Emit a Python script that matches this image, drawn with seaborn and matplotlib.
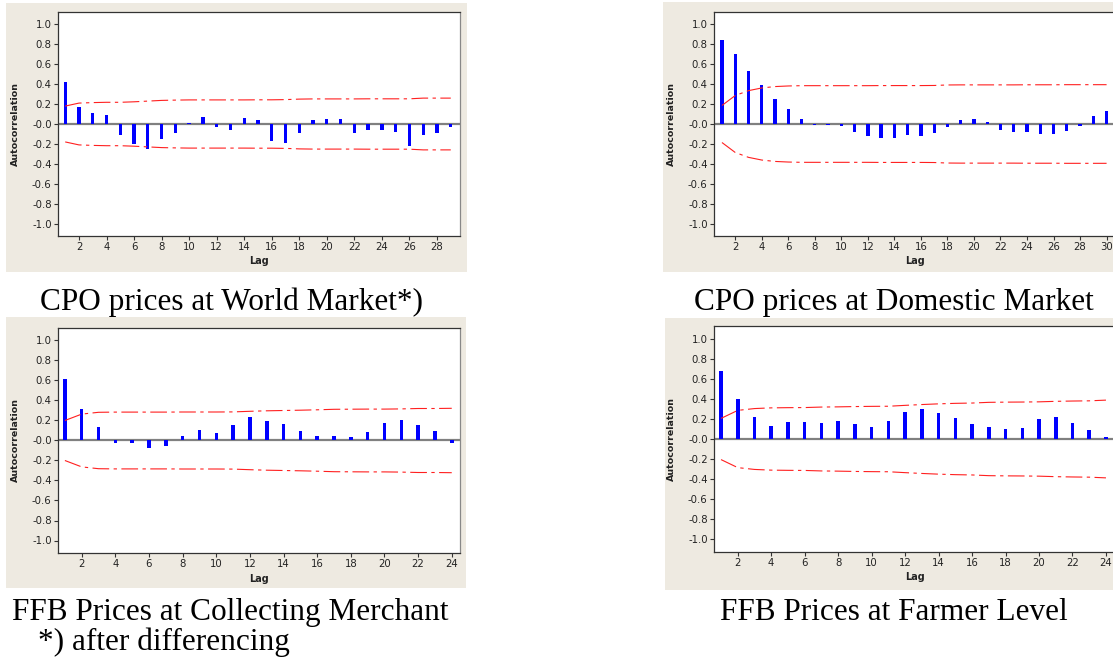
import matplotlib
matplotlib.use("Agg")
import matplotlib.pyplot as plt
import seaborn as sns
import numpy as np
import pandas as pd
from matplotlib.patches import Rectangle

# ACF values
world_acf = [0.42, 0.17, 0.11, 0.09, -0.11, -0.20, -0.25, -0.15, -0.09, 0.01,
             0.07, -0.03, -0.06, 0.06, 0.04, -0.17, -0.19, -0.09, 0.04, 0.05,
             0.05, -0.09, -0.06, -0.06, -0.08, -0.22, -0.11, -0.09, -0.03]
world_lim = [0.18, 0.21, 0.215, 0.218, 0.218, 0.223, 0.23, 0.237, 0.24, 0.242,
             0.242, 0.242, 0.242, 0.242, 0.243, 0.243, 0.245, 0.25, 0.252, 0.252,
             0.252, 0.252, 0.253, 0.253, 0.253, 0.253, 0.26, 0.26, 0.26]

domestic_acf = [0.84, 0.70, 0.53, 0.39, 0.25, 0.15, 0.05, -0.01, -0.01, -0.02,
                -0.08, -0.12, -0.14, -0.14, -0.11, -0.12, -0.09, -0.03, 0.04, 0.05,
                0.02, -0.06, -0.08, -0.08, -0.10, -0.10, -0.07, -0.02, 0.08, 0.13]
domestic_lim = [0.186, 0.286, 0.335, 0.362, 0.376, 0.382, 0.385, 0.385, 0.385, 0.385,
                0.385, 0.385, 0.386, 0.386, 0.386, 0.386, 0.387, 0.392, 0.393, 0.393,
                0.393, 0.393, 0.393, 0.394, 0.394, 0.394, 0.395, 0.395, 0.395, 0.395]

merchant_acf = [0.61, 0.31, 0.13, -0.03, -0.03, -0.08, -0.06, 0.04, 0.10, 0.07,
                0.15, 0.23, 0.19, 0.16, 0.09, 0.04, 0.04, 0.03, 0.08, 0.17,
                0.20, 0.15, 0.09, -0.03]
merchant_lim = [0.20, 0.264, 0.282, 0.284, 0.284, 0.284, 0.284, 0.285, 0.285, 0.285,
                0.286, 0.292, 0.297, 0.30, 0.303, 0.307, 0.312, 0.313, 0.314, 0.314,
                0.316, 0.32, 0.32, 0.322]

farmer_acf = [0.68, 0.40, 0.22, 0.13, 0.17, 0.17, 0.16, 0.18, 0.15, 0.12,
              0.18, 0.27, 0.30, 0.26, 0.21, 0.15, 0.12, 0.10, 0.11, 0.20,
              0.22, 0.16, 0.09, 0.02]
farmer_lim = [0.205, 0.285, 0.303, 0.31, 0.312, 0.313, 0.318, 0.32, 0.323, 0.325,
              0.326, 0.335, 0.343, 0.35, 0.355, 0.358, 0.365, 0.367, 0.368, 0.37,
              0.375, 0.378, 0.38, 0.387]

captions = ["CPO prices at World Market*)", "CPO prices at Domestic Market",
            "FFB Prices at Collecting Merchant", "FFB Prices at Farmer Level"]
footnote = "*) after differencing"

W, H = 1113, 668
BEIGE = "#eeeae1"

sns.set_theme(style="ticks")
plt.rcParams["font.family"] = ["DejaVu Sans"]
plt.rcParams["axes.linewidth"] = 0.9

fig = plt.figure(figsize=(W / 100, H / 100), dpi=100)
fig.patch.set_facecolor("white")


def fig_rect(x0, y0, x1, y1):
    fig.add_artist(Rectangle((x0 / W, 1 - y1 / H), (x1 - x0) / W, (y1 - y0) / H,
                             transform=fig.transFigure, facecolor=BEIGE,
                             edgecolor="none", zorder=0))


def px_axes(left, top, right, bottom):
    return fig.add_axes([left / W, 1 - bottom / H, (right - left) / W, (bottom - top) / H])


# beige chart backgrounds
fig_rect(6, 3, 467, 272)
fig_rect(663, 2, 1120, 272)
fig_rect(6, 317, 466, 588)
fig_rect(665, 318, 1120, 590)

panels = [
    (world_acf, world_lim, (58, 12, 460, 236), (0.477, 29.67), 0.24, range(2, 29, 2)),
    (domestic_acf, domestic_lim, (714, 12, 1116, 236), (0.40, 30.71), 0.25, range(2, 31, 2)),
    (merchant_acf, merchant_lim, (58, 328, 460, 553), (0.59, 24.49), 0.21, range(2, 25, 2)),
    (farmer_acf, farmer_lim, (714, 326, 1116, 552), (0.58, 24.6), 0.21, range(2, 25, 2)),
]

for acf, lim, box, xlim, bw, xt in panels:
    ax = px_axes(*box)
    ax.set_facecolor("white")
    lags = np.arange(1, len(acf) + 1)
    df = pd.DataFrame({"Lag": lags, "acf": acf, "up": lim, "lo": [-v for v in lim]})

    ax.axhline(0, color="#808080", lw=1.6, zorder=1)
    sns.barplot(data=df, x="Lag", y="acf", native_scale=True, width=bw,
                color="#0000ff", saturation=1, errorbar=None, ax=ax, zorder=2,
                linewidth=0)
    for col in ["up", "lo"]:
        sns.lineplot(data=df, x="Lag", y=col, ax=ax, color="#ff2020", lw=0.8,
                     linestyle=(0, (15, 4, 3, 4)), zorder=3)

    ax.set_xlim(*xlim)
    ax.set_ylim(-1.125, 1.125)
    ax.set_xticks(list(xt))
    ax.set_yticks(np.round(np.arange(-1.0, 1.01, 0.2), 1))
    ax.set_yticklabels([f"{v:.1f}" for v in np.round(np.arange(-1.0, 1.01, 0.2), 1)])
    ax.tick_params(axis="both", labelsize=7.3, length=3, width=0.8, pad=1.5,
                   colors="#333333", labelcolor="#222222")
    for s in ax.spines.values():
        s.set_color("#333333")
        s.set_linewidth(0.9)
    ax.spines["right"].set_color("#888888")

    aw = box[2] - box[0]
    ah = box[3] - box[1]
    ax.set_ylabel("Autocorrelation", fontsize=6.8, fontweight="bold", color="#222222")
    ax.yaxis.set_label_coords(-38.5 / aw, 0.5)
    ax.set_xlabel("Lag", fontsize=7, fontweight="bold", color="#222222")
    ax.xaxis.label.set_verticalalignment("center")
    ax.xaxis.set_label_coords(0.5, -25.5 / ah)

# captions under each panel
serif = ["Liberation Serif", "DejaVu Serif"]
cap_pos = [(232, 310), (894, 310), (230, 620), (894, 620)]
for text, (cx, by) in zip(captions, cap_pos):
    fig.text(cx / W, 1 - by / H, text, ha="center", va="baseline",
             fontsize=22.5, family=serif, color="black")
fig.text(38 / W, 1 - 650 / H, footnote, ha="left", va="baseline",
         fontsize=22.5, family=serif, color="black")

fig.savefig("out.png", dpi=100, facecolor="white")
